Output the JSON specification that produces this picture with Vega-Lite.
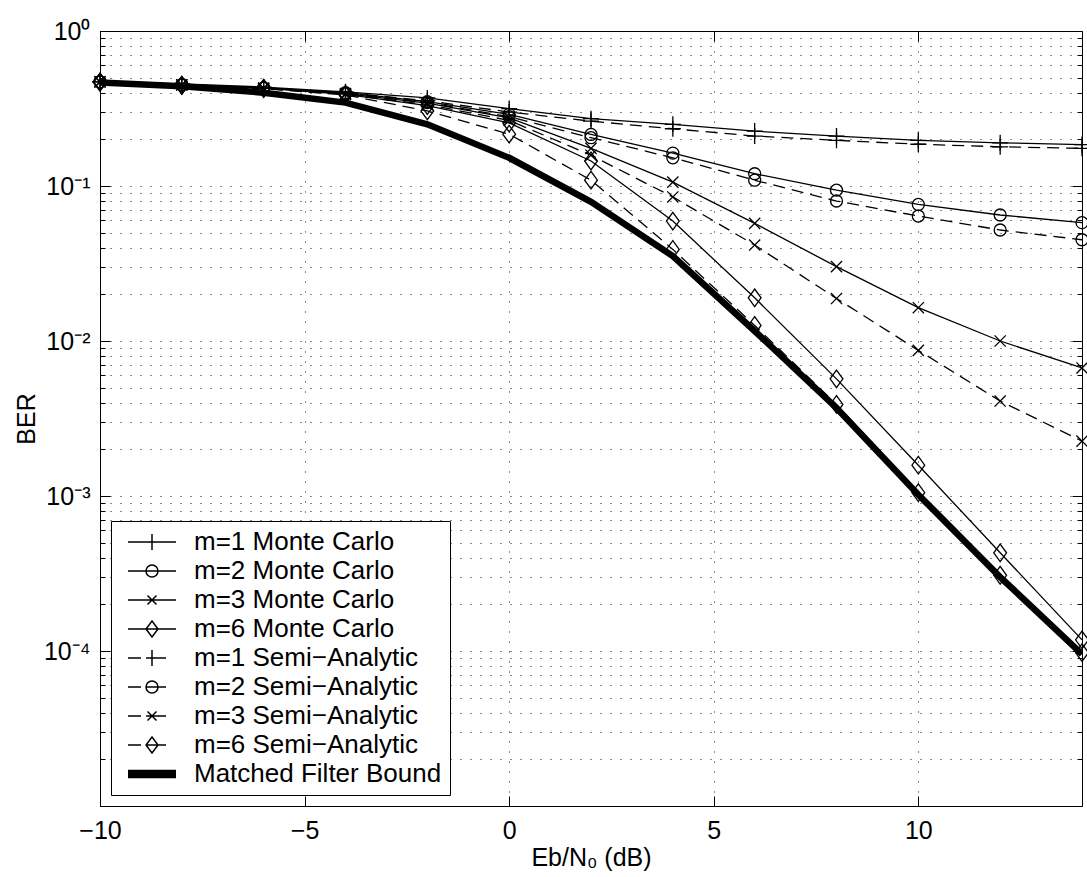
{
  "$schema": "https://vega.github.io/schema/vega-lite/v6.json",
  "width": 982,
  "height": 775,
  "autosize": {"type": "none"},
  "padding": {"left": 100, "top": 31, "right": 5, "bottom": 71},
  "background": "white",
  "config": {
    "view": {"stroke": "black", "strokeWidth": 1},
    "font": "Liberation Sans",
    "axis": {
      "labelFont": "Liberation Sans", "labelFontSize": 25, "labelColor": "black",
      "titleFont": "Liberation Sans", "titleFontSize": 25, "titleFontWeight": "normal", "titleColor": "black",
      "tickColor": "black", "tickWidth": 1, "domain": false,
      "gridColor": "#000000", "gridDash": [1, 9], "gridOpacity": 0.9, "gridWidth": 1,
      "labelOverlap": false, "labelFlush": false
    },
    "legend": {
      "labelFont": "Liberation Sans", "labelFontSize": 26, "labelColor": "black", "labelLimit": 500,
      "strokeColor": "black", "fillColor": "white", "padding": 8, "cornerRadius": 0
    }
  },
  "data": {"values": [
    {"x": -10, "y": 0.47, "s": "m=1 Monte Carlo", "t": "MC", "m": "plus"},
    {"x": -8, "y": 0.455, "s": "m=1 Monte Carlo", "t": "MC", "m": "plus"},
    {"x": -6, "y": 0.435, "s": "m=1 Monte Carlo", "t": "MC", "m": "plus"},
    {"x": -4, "y": 0.405, "s": "m=1 Monte Carlo", "t": "MC", "m": "plus"},
    {"x": -2, "y": 0.37, "s": "m=1 Monte Carlo", "t": "MC", "m": "plus"},
    {"x": 0, "y": 0.316, "s": "m=1 Monte Carlo", "t": "MC", "m": "plus"},
    {"x": 2, "y": 0.272, "s": "m=1 Monte Carlo", "t": "MC", "m": "plus"},
    {"x": 4, "y": 0.25, "s": "m=1 Monte Carlo", "t": "MC", "m": "plus"},
    {"x": 6, "y": 0.226, "s": "m=1 Monte Carlo", "t": "MC", "m": "plus"},
    {"x": 8, "y": 0.21, "s": "m=1 Monte Carlo", "t": "MC", "m": "plus"},
    {"x": 10, "y": 0.197, "s": "m=1 Monte Carlo", "t": "MC", "m": "plus"},
    {"x": 12, "y": 0.19, "s": "m=1 Monte Carlo", "t": "MC", "m": "plus"},
    {"x": 14, "y": 0.185, "s": "m=1 Monte Carlo", "t": "MC", "m": "plus"},
    {"x": -10, "y": 0.47, "s": "m=2 Monte Carlo", "t": "MC", "m": "circle"},
    {"x": -8, "y": 0.45, "s": "m=2 Monte Carlo", "t": "MC", "m": "circle"},
    {"x": -6, "y": 0.43, "s": "m=2 Monte Carlo", "t": "MC", "m": "circle"},
    {"x": -4, "y": 0.4, "s": "m=2 Monte Carlo", "t": "MC", "m": "circle"},
    {"x": -2, "y": 0.35, "s": "m=2 Monte Carlo", "t": "MC", "m": "circle"},
    {"x": 0, "y": 0.29, "s": "m=2 Monte Carlo", "t": "MC", "m": "circle"},
    {"x": 2, "y": 0.215, "s": "m=2 Monte Carlo", "t": "MC", "m": "circle"},
    {"x": 4, "y": 0.163, "s": "m=2 Monte Carlo", "t": "MC", "m": "circle"},
    {"x": 6, "y": 0.12, "s": "m=2 Monte Carlo", "t": "MC", "m": "circle"},
    {"x": 8, "y": 0.094, "s": "m=2 Monte Carlo", "t": "MC", "m": "circle"},
    {"x": 10, "y": 0.076, "s": "m=2 Monte Carlo", "t": "MC", "m": "circle"},
    {"x": 12, "y": 0.065, "s": "m=2 Monte Carlo", "t": "MC", "m": "circle"},
    {"x": 14, "y": 0.058, "s": "m=2 Monte Carlo", "t": "MC", "m": "circle"},
    {"x": -10, "y": 0.47, "s": "m=3 Monte Carlo", "t": "MC", "m": "cross"},
    {"x": -8, "y": 0.45, "s": "m=3 Monte Carlo", "t": "MC", "m": "cross"},
    {"x": -6, "y": 0.428, "s": "m=3 Monte Carlo", "t": "MC", "m": "cross"},
    {"x": -4, "y": 0.395, "s": "m=3 Monte Carlo", "t": "MC", "m": "cross"},
    {"x": -2, "y": 0.343, "s": "m=3 Monte Carlo", "t": "MC", "m": "cross"},
    {"x": 0, "y": 0.275, "s": "m=3 Monte Carlo", "t": "MC", "m": "cross"},
    {"x": 2, "y": 0.175, "s": "m=3 Monte Carlo", "t": "MC", "m": "cross"},
    {"x": 4, "y": 0.106, "s": "m=3 Monte Carlo", "t": "MC", "m": "cross"},
    {"x": 6, "y": 0.0574, "s": "m=3 Monte Carlo", "t": "MC", "m": "cross"},
    {"x": 8, "y": 0.0302, "s": "m=3 Monte Carlo", "t": "MC", "m": "cross"},
    {"x": 10, "y": 0.0164, "s": "m=3 Monte Carlo", "t": "MC", "m": "cross"},
    {"x": 12, "y": 0.01, "s": "m=3 Monte Carlo", "t": "MC", "m": "cross"},
    {"x": 14, "y": 0.0067, "s": "m=3 Monte Carlo", "t": "MC", "m": "cross"},
    {"x": -10, "y": 0.47, "s": "m=6 Monte Carlo", "t": "MC", "m": "diamond"},
    {"x": -8, "y": 0.447, "s": "m=6 Monte Carlo", "t": "MC", "m": "diamond"},
    {"x": -6, "y": 0.428, "s": "m=6 Monte Carlo", "t": "MC", "m": "diamond"},
    {"x": -4, "y": 0.39, "s": "m=6 Monte Carlo", "t": "MC", "m": "diamond"},
    {"x": -2, "y": 0.33, "s": "m=6 Monte Carlo", "t": "MC", "m": "diamond"},
    {"x": 0, "y": 0.255, "s": "m=6 Monte Carlo", "t": "MC", "m": "diamond"},
    {"x": 2, "y": 0.145, "s": "m=6 Monte Carlo", "t": "MC", "m": "diamond"},
    {"x": 4, "y": 0.0594, "s": "m=6 Monte Carlo", "t": "MC", "m": "diamond"},
    {"x": 6, "y": 0.019, "s": "m=6 Monte Carlo", "t": "MC", "m": "diamond"},
    {"x": 8, "y": 0.0057, "s": "m=6 Monte Carlo", "t": "MC", "m": "diamond"},
    {"x": 10, "y": 0.00158, "s": "m=6 Monte Carlo", "t": "MC", "m": "diamond"},
    {"x": 12, "y": 0.00043, "s": "m=6 Monte Carlo", "t": "MC", "m": "diamond"},
    {"x": 14, "y": 0.000118, "s": "m=6 Monte Carlo", "t": "MC", "m": "diamond"},
    {"x": -10, "y": 0.47, "s": "m=1 Semi−Analytic", "t": "SA", "m": "plus"},
    {"x": -8, "y": 0.452, "s": "m=1 Semi−Analytic", "t": "SA", "m": "plus"},
    {"x": -6, "y": 0.43, "s": "m=1 Semi−Analytic", "t": "SA", "m": "plus"},
    {"x": -4, "y": 0.4, "s": "m=1 Semi−Analytic", "t": "SA", "m": "plus"},
    {"x": -2, "y": 0.355, "s": "m=1 Semi−Analytic", "t": "SA", "m": "plus"},
    {"x": 0, "y": 0.3, "s": "m=1 Semi−Analytic", "t": "SA", "m": "plus"},
    {"x": 2, "y": 0.262, "s": "m=1 Semi−Analytic", "t": "SA", "m": "plus"},
    {"x": 4, "y": 0.234, "s": "m=1 Semi−Analytic", "t": "SA", "m": "plus"},
    {"x": 6, "y": 0.21, "s": "m=1 Semi−Analytic", "t": "SA", "m": "plus"},
    {"x": 8, "y": 0.197, "s": "m=1 Semi−Analytic", "t": "SA", "m": "plus"},
    {"x": 10, "y": 0.186, "s": "m=1 Semi−Analytic", "t": "SA", "m": "plus"},
    {"x": 12, "y": 0.179, "s": "m=1 Semi−Analytic", "t": "SA", "m": "plus"},
    {"x": 14, "y": 0.175, "s": "m=1 Semi−Analytic", "t": "SA", "m": "plus"},
    {"x": -10, "y": 0.47, "s": "m=2 Semi−Analytic", "t": "SA", "m": "circle"},
    {"x": -8, "y": 0.45, "s": "m=2 Semi−Analytic", "t": "SA", "m": "circle"},
    {"x": -6, "y": 0.428, "s": "m=2 Semi−Analytic", "t": "SA", "m": "circle"},
    {"x": -4, "y": 0.395, "s": "m=2 Semi−Analytic", "t": "SA", "m": "circle"},
    {"x": -2, "y": 0.345, "s": "m=2 Semi−Analytic", "t": "SA", "m": "circle"},
    {"x": 0, "y": 0.28, "s": "m=2 Semi−Analytic", "t": "SA", "m": "circle"},
    {"x": 2, "y": 0.205, "s": "m=2 Semi−Analytic", "t": "SA", "m": "circle"},
    {"x": 4, "y": 0.152, "s": "m=2 Semi−Analytic", "t": "SA", "m": "circle"},
    {"x": 6, "y": 0.109, "s": "m=2 Semi−Analytic", "t": "SA", "m": "circle"},
    {"x": 8, "y": 0.08, "s": "m=2 Semi−Analytic", "t": "SA", "m": "circle"},
    {"x": 10, "y": 0.064, "s": "m=2 Semi−Analytic", "t": "SA", "m": "circle"},
    {"x": 12, "y": 0.052, "s": "m=2 Semi−Analytic", "t": "SA", "m": "circle"},
    {"x": 14, "y": 0.045, "s": "m=2 Semi−Analytic", "t": "SA", "m": "circle"},
    {"x": -10, "y": 0.47, "s": "m=3 Semi−Analytic", "t": "SA", "m": "cross"},
    {"x": -8, "y": 0.448, "s": "m=3 Semi−Analytic", "t": "SA", "m": "cross"},
    {"x": -6, "y": 0.425, "s": "m=3 Semi−Analytic", "t": "SA", "m": "cross"},
    {"x": -4, "y": 0.39, "s": "m=3 Semi−Analytic", "t": "SA", "m": "cross"},
    {"x": -2, "y": 0.335, "s": "m=3 Semi−Analytic", "t": "SA", "m": "cross"},
    {"x": 0, "y": 0.265, "s": "m=3 Semi−Analytic", "t": "SA", "m": "cross"},
    {"x": 2, "y": 0.158, "s": "m=3 Semi−Analytic", "t": "SA", "m": "cross"},
    {"x": 4, "y": 0.085, "s": "m=3 Semi−Analytic", "t": "SA", "m": "cross"},
    {"x": 6, "y": 0.0416, "s": "m=3 Semi−Analytic", "t": "SA", "m": "cross"},
    {"x": 8, "y": 0.0188, "s": "m=3 Semi−Analytic", "t": "SA", "m": "cross"},
    {"x": 10, "y": 0.0087, "s": "m=3 Semi−Analytic", "t": "SA", "m": "cross"},
    {"x": 12, "y": 0.0041, "s": "m=3 Semi−Analytic", "t": "SA", "m": "cross"},
    {"x": 14, "y": 0.00226, "s": "m=3 Semi−Analytic", "t": "SA", "m": "cross"},
    {"x": -10, "y": 0.467, "s": "m=6 Semi−Analytic", "t": "SA", "m": "diamond"},
    {"x": -8, "y": 0.445, "s": "m=6 Semi−Analytic", "t": "SA", "m": "diamond"},
    {"x": -6, "y": 0.425, "s": "m=6 Semi−Analytic", "t": "SA", "m": "diamond"},
    {"x": -4, "y": 0.387, "s": "m=6 Semi−Analytic", "t": "SA", "m": "diamond"},
    {"x": -2, "y": 0.305, "s": "m=6 Semi−Analytic", "t": "SA", "m": "diamond"},
    {"x": 0, "y": 0.216, "s": "m=6 Semi−Analytic", "t": "SA", "m": "diamond"},
    {"x": 2, "y": 0.109, "s": "m=6 Semi−Analytic", "t": "SA", "m": "diamond"},
    {"x": 4, "y": 0.039, "s": "m=6 Semi−Analytic", "t": "SA", "m": "diamond"},
    {"x": 6, "y": 0.0126, "s": "m=6 Semi−Analytic", "t": "SA", "m": "diamond"},
    {"x": 8, "y": 0.0039, "s": "m=6 Semi−Analytic", "t": "SA", "m": "diamond"},
    {"x": 10, "y": 0.00105, "s": "m=6 Semi−Analytic", "t": "SA", "m": "diamond"},
    {"x": 12, "y": 0.000308, "s": "m=6 Semi−Analytic", "t": "SA", "m": "diamond"},
    {"x": 14, "y": 0.0000976, "s": "m=6 Semi−Analytic", "t": "SA", "m": "diamond"},
    {"x": -10, "y": 0.465, "s": "Matched Filter Bound", "t": "MF", "m": "none"},
    {"x": -8, "y": 0.44, "s": "Matched Filter Bound", "t": "MF", "m": "none"},
    {"x": -6, "y": 0.4, "s": "Matched Filter Bound", "t": "MF", "m": "none"},
    {"x": -4, "y": 0.345, "s": "Matched Filter Bound", "t": "MF", "m": "none"},
    {"x": -2, "y": 0.25, "s": "Matched Filter Bound", "t": "MF", "m": "none"},
    {"x": 0, "y": 0.152, "s": "Matched Filter Bound", "t": "MF", "m": "none"},
    {"x": 2, "y": 0.079, "s": "Matched Filter Bound", "t": "MF", "m": "none"},
    {"x": 4, "y": 0.0353, "s": "Matched Filter Bound", "t": "MF", "m": "none"},
    {"x": 6, "y": 0.0116, "s": "Matched Filter Bound", "t": "MF", "m": "none"},
    {"x": 8, "y": 0.0037, "s": "Matched Filter Bound", "t": "MF", "m": "none"},
    {"x": 10, "y": 0.00102, "s": "Matched Filter Bound", "t": "MF", "m": "none"},
    {"x": 12, "y": 0.0003, "s": "Matched Filter Bound", "t": "MF", "m": "none"},
    {"x": 14, "y": 0.0000955, "s": "Matched Filter Bound", "t": "MF", "m": "none"}
  ]},
  "resolve": {"axis": {"x": "independent", "y": "independent"}, "scale": {"shape": "independent"}},
  "layer": [
    {
      "transform": [{"filter": "datum.t === 'MF'"}],
      "mark": {"type": "line", "color": "black", "strokeWidth": 6.5, "clip": true},
      "encoding": {
        "x": {"field": "x", "type": "quantitative", "scale": {"domain": [-10, 14], "nice": false, "zero": false},
          "axis": {"orient": "bottom", "values": [-10, -5, 0, 5, 10], "tickSize": -10, "labelPadding": 22, "grid": true,
            "title": "Eb/N₀ (dB)", "titlePadding": 2}},
        "y": {"field": "y", "type": "quantitative", "scale": {"type": "log", "domain": [0.00001, 1], "nice": false},
          "axis": {"orient": "left", "values": [0.0001, 0.001, 0.01, 0.1, 1], "tickSize": -10, "labelPadding": 20, "grid": false,
            "labelBaseline": "middle",
            "labelExpr": "datum.value >= 0.5 ? '10⁰' : datum.value >= 0.05 ? '10⁻¹' : datum.value >= 0.005 ? '10⁻²' : datum.value >= 0.0005 ? '10⁻³' : '10⁻⁴'",
            "title": "BER", "titlePadding": 4}},
        "detail": {"field": "s"}
      }
    },
    {
      "transform": [{"filter": "datum.t === 'MC'"}],
      "mark": {"type": "line", "color": "black", "strokeWidth": 1.3},
      "encoding": {
        "x": {"field": "x", "type": "quantitative",
          "axis": {"orient": "top", "values": [-10, -5, 0, 5, 10], "tickSize": -10, "labels": false, "grid": false, "title": null}},
        "y": {"field": "y", "type": "quantitative",
          "axis": {"orient": "left", "labels": false, "tickSize": -5, "grid": true, "title": null,
            "values": [0.00001,0.00002,0.00003,0.00004,0.00005,0.00006,0.00007,0.00008,0.00009,0.0001,0.0002,0.0003,0.0004,0.0005,0.0006,0.0007,0.0008,0.0009,0.001,0.002,0.003,0.004,0.005,0.006,0.007,0.008,0.009,0.01,0.02,0.03,0.04,0.05,0.06,0.07,0.08,0.09,0.1,0.2,0.3,0.4,0.5,0.6,0.7,0.8,0.9,1]}},
        "detail": {"field": "s"}
      }
    },
    {
      "transform": [{"filter": "datum.t === 'SA'"}],
      "mark": {"type": "line", "color": "black", "strokeWidth": 1.3, "strokeDash": [12, 7]},
      "encoding": {
        "x": {"field": "x", "type": "quantitative", "axis": null},
        "y": {"field": "y", "type": "quantitative",
          "axis": {"orient": "right", "labels": false, "tickSize": -10, "grid": false, "title": null,
            "values": [0.00001, 0.0001, 0.001, 0.01, 0.1, 1]}},
        "detail": {"field": "s"}
      }
    },
    {
      "transform": [{"filter": "datum.t !== 'MF'"}],
      "mark": {"type": "point", "filled": false, "color": "black", "strokeWidth": 1.3, "size": 256, "opacity": 1},
      "encoding": {
        "x": {"field": "x", "type": "quantitative", "axis": null},
        "y": {"field": "y", "type": "quantitative",
          "axis": {"orient": "right", "labels": false, "tickSize": -5, "grid": false, "title": null,
            "values": [0.00002,0.00003,0.00004,0.00005,0.00006,0.00007,0.00008,0.00009,0.0002,0.0003,0.0004,0.0005,0.0006,0.0007,0.0008,0.0009,0.002,0.003,0.004,0.005,0.006,0.007,0.008,0.009,0.02,0.03,0.04,0.05,0.06,0.07,0.08,0.09,0.2,0.3,0.4,0.5,0.6,0.7,0.8,0.9]}},
        "shape": {"field": "m", "type": "nominal", "legend": null,
          "scale": {"domain": ["plus", "circle", "cross", "diamond"],
            "range": ["M-1,0H1M0,-1V1",
                      "M0.75,0A0.75,0.75,0,1,1,-0.75,0A0.75,0.75,0,1,1,0.75,0Z",
                      "M-0.7,-0.7L0.7,0.7M-0.7,0.7L0.7,-0.7",
                      "M0,-1.1L0.8,0L0,1.1L-0.8,0Z"]}}
      }
    },
    {
      "mark": {"type": "point", "filled": false, "color": "black", "size": 400, "opacity": 0},
      "encoding": {
        "x": {"field": "x", "type": "quantitative", "axis": null},
        "y": {"field": "y", "type": "quantitative", "axis": null},
        "shape": {"field": "s", "type": "nominal",
          "scale": {"domain": ["m=1 Monte Carlo", "m=2 Monte Carlo", "m=3 Monte Carlo", "m=6 Monte Carlo", "m=1 Semi−Analytic", "m=2 Semi−Analytic", "m=3 Semi−Analytic", "m=6 Semi−Analytic", "Matched Filter Bound"],
            "range": [
              "M-2.4,0H2.4M0,-0.8V0.8",
              "M-2.4,0H2.4M0.6,0A0.6,0.6,0,1,1,-0.6,0A0.6,0.6,0,1,1,0.6,0",
              "M-2.4,0H2.4M-0.45,-0.45L0.45,0.45M-0.45,0.45L0.45,-0.45",
              "M-2.4,0H2.4M0,-0.8L0.6,0L0,0.8L-0.6,0Z",
              "M-2.4,0H-1.1M-0.6,0H1.4M0,-0.8V0.8",
              "M-2.4,0H-1.1M-0.6,0H1.4M0.6,0A0.6,0.6,0,1,1,-0.6,0A0.6,0.6,0,1,1,0.6,0",
              "M-2.4,0H-1.1M-0.6,0H1.4M-0.45,-0.45L0.45,0.45M-0.45,0.45L0.45,-0.45",
              "M-2.4,0H-1.1M-0.6,0H1.4M0,-0.8L0.6,0L0,0.8L-0.6,0Z",
              "M-2.4,-0.35H2.4M-2.4,-0.25H2.4M-2.4,-0.15H2.4M-2.4,-0.05H2.4M-2.4,0.05H2.4M-2.4,0.15H2.4M-2.4,0.25H2.4M-2.4,0.35H2.4"
            ]},
          "legend": {"title": null, "orient": "bottom-left", "offset": 11, "symbolSize": 400,
            "symbolStrokeColor": "black", "symbolFillColor": "transparent", "symbolStrokeWidth": 1.5, "symbolOpacity": 1,
            "symbolOffset": 20, "labelOffset": 29, "rowPadding": 3, "labelBaseline": "middle"}}
      }
    }
  ]
}
